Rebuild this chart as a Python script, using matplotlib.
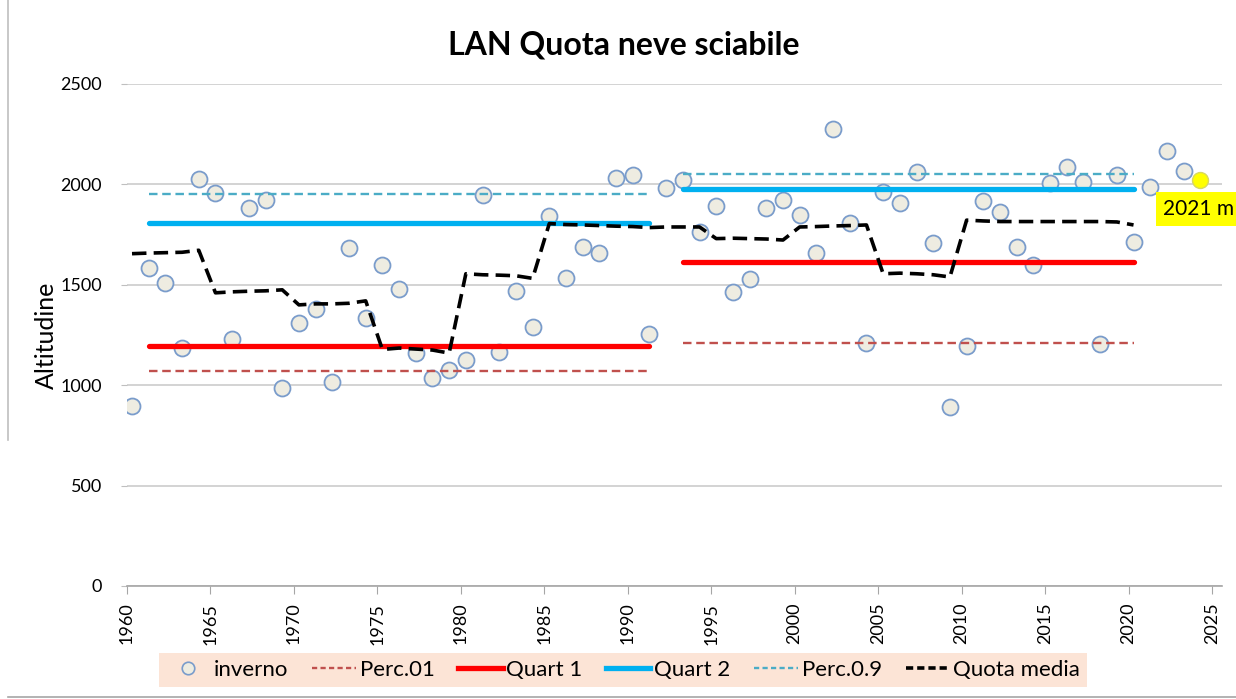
import numpy as np
import matplotlib.pyplot as plt
from matplotlib.lines import Line2D

plt.rcParams['font.family'] = ['Lato', 'DejaVu Sans']

# winter snow line altitude per season (m)
years = np.arange(1960, 2025)
inverno = [895, 1584, 1509, 1185, 2027, 1957, 1230, 1882, 1922, 986,
           1310, 1380, 1016, 1683, 1335, 1599, 1479, 1160, 1038, 1076,
           1125, 1947, 1165, 1469, 1290, 1843, 1534, 1688, 1658, 2032,
           2047, 1255, 1982, 2022, 1763, 1892, 1464, 1529, 1883, 1922,
           1848, 1658, 2276, 1808, 1210, 1962, 1907, 2062, 1708, 891,
           1195, 1917, 1863, 1688, 1599, 2007, 2087, 2012, 1205, 2047,
           1713, 1987, 2166, 2067, 2021]

# running mean ("Quota media"), 1960-2020
media_years = np.arange(1960, 2021)
quota_media = [1655, 1658, 1660, 1662, 1672,
               1460, 1465, 1468, 1470, 1475,
               1400, 1405, 1405, 1408, 1420,
               1178, 1185, 1180, 1175, 1160,
               1555, 1550, 1548, 1545, 1532,
               1805, 1800, 1798, 1795, 1792,
               1790, 1785, 1788, 1788, 1788,
               1730, 1732, 1730, 1728, 1723,
               1788, 1790, 1793, 1795, 1798,
               1555, 1558, 1555, 1550, 1539,
               1822, 1818, 1815, 1815, 1815,
               1815, 1815, 1815, 1815, 1813,
               1798]

# reference periods and their statistics
period_start = [1961, 1993]
period_end = [1991, 2020]
perc01 = [1072, 1212]
quart1 = [1197, 1615]
quart2 = [1806, 1975]
perc09 = [1951, 2050]

X_OFF = 0.3  # points sit a bit right of the year tick

fig = plt.figure(figsize=(12.36, 6.99), dpi=100)
ax = fig.add_axes([127 / 1236, 1 - 586 / 699, 1095 / 1236, 502 / 699])

x = years + X_OFF
ax.plot(x[:-1], inverno[:-1], 'o', ms=11.5, mfc='#EEECE1', mec='#7A9CCB',
        mew=1.3, zorder=3)
ax.plot(x[-1], inverno[-1], 'o', ms=11.5, mfc='#FFFF00', mec='#D8D860',
        mew=1.0, zorder=3)

styles = [
    (perc01, dict(color='#C0504D', lw=1.7, ls=(0, (3.6, 2.0)))),
    (quart1, dict(color='#FF0000', lw=3.8, ls='-', solid_capstyle='round')),
    (quart2, dict(color='#00B0F0', lw=3.8, ls='-', solid_capstyle='round')),
    (perc09, dict(color='#4BACC6', lw=1.7, ls=(0, (3.6, 2.0)))),
]
for vals, kw in styles:
    for s, e, v in zip(period_start, period_end, vals):
        ax.plot([s + X_OFF, e + X_OFF], [v, v], zorder=4, **kw)

ax.plot(media_years + X_OFF, quota_media, color='black', lw=2.6,
        ls=(0, (4.0, 2.0)), zorder=5)

ax.annotate(f'{inverno[-1]} m', xy=(x[-1], inverno[-1]),
            xytext=(-37, -29), textcoords='offset pixels',
            ha='left', va='center', fontsize=15, color='black',
            bbox=dict(boxstyle='square,pad=0.35', fc='#FFFF00', ec='none'),
            annotation_clip=False, zorder=6)

ax.set_xlim(1960, 2025.6)
ax.set_ylim(0, 2500)
ax.set_xticks(np.arange(1960, 2026, 5))
ax.set_yticks(np.arange(0, 2501, 500))
ax.tick_params(axis='x', labelrotation=90, labelsize=13, length=6,
               color='#A6A6A6', pad=6)
ax.tick_params(axis='y', labelsize=13, length=4, color='#BFBFBF', pad=14)
ax.grid(axis='y', color='#D0D0D0', lw=1.3)
ax.set_axisbelow(True)
for side in ['top', 'right', 'left']:
    ax.spines[side].set_visible(False)
ax.spines['bottom'].set_color('#A6A6A6')
ax.spines['bottom'].set_linewidth(1.2)

ax.set_ylabel('Altitudine', fontsize=18, labelpad=2)
fig.text(624 / 1236, 1 - 45 / 699, 'LAN Quota neve sciabile', ha='center',
         va='center', fontsize=23, fontweight='bold')

handles = [
    Line2D([], [], ls='none', marker='o', ms=9, mfc='#EEECE1', mec='#7A9CCB', mew=1.2),
    Line2D([], [], color='#C0504D', lw=1.7, ls=(0, (2.2, 1.4))),
    Line2D([], [], color='#FF0000', lw=3.8),
    Line2D([], [], color='#00B0F0', lw=3.8),
    Line2D([], [], color='#4BACC6', lw=1.7, ls=(0, (2.2, 1.4))),
    Line2D([], [], color='black', lw=2.6, ls=(0, (2.0, 1.1))),
]
labels = ['inverno', 'Perc.01', 'Quart 1', 'Quart 2', 'Perc.0.9', 'Quota media']
leg = fig.legend(handles, labels, loc='center', ncol=6, mode='expand',
                 bbox_to_anchor=(148 / 1236, 1 - 689 / 699, 950 / 1236, 38 / 699),
                 fontsize=16, handlelength=2.0, handletextpad=0.15,
                 borderpad=0.3, frameon=True, fancybox=False)
leg.get_frame().set_facecolor('#FCE4D6')
leg.get_frame().set_edgecolor('none')
leg.get_frame().set_alpha(1)

# chart border
fig.add_artist(Line2D([8 / 1236, 8 / 1236], [1, 1 - 440 / 699],
                      transform=fig.transFigure, color='#BFBFBF', lw=1.2))
fig.add_artist(Line2D([8 / 1236, 1], [1 - 697 / 699, 1 - 697 / 699],
                      transform=fig.transFigure, color='#A6A6A6', lw=1.2))

fig.savefig('out.png', dpi=100)
